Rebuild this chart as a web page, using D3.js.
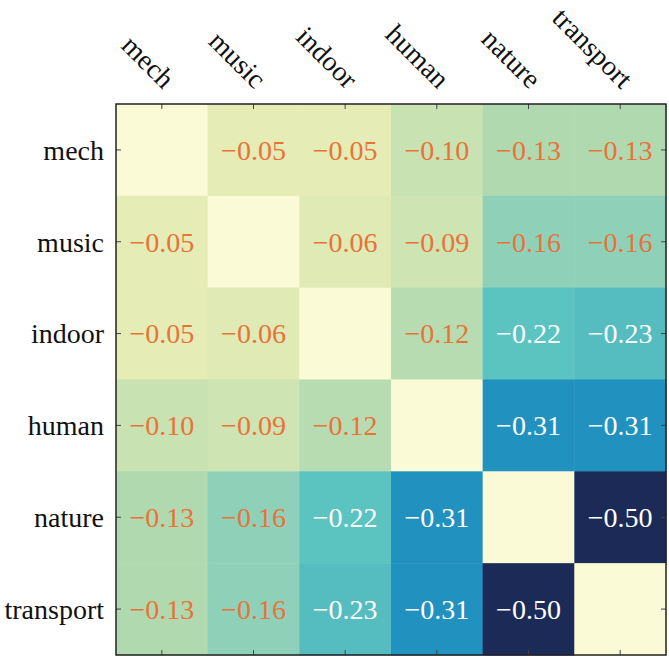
<!DOCTYPE html>
<html><head><meta charset="utf-8">
<script src="https://cdn.jsdelivr.net/npm/d3@7"></script>
</head><body style="margin:0">
<svg id="chart" width="669" height="656" font-family="Liberation Serif"></svg>
<script>
const categories = ["mech", "music", "indoor", "human", "nature", "transport"];
const values = [
  [null, -0.05, -0.05, -0.10, -0.13, -0.13],
  [-0.05, null, -0.06, -0.09, -0.16, -0.16],
  [-0.05, -0.06, null, -0.12, -0.22, -0.23],
  [-0.10, -0.09, -0.12, null, -0.31, -0.31],
  [-0.13, -0.16, -0.22, -0.31, null, -0.50],
  [-0.13, -0.16, -0.23, -0.31, -0.50, null]
];
const colorStops = [0, -0.05, -0.10, -0.13, -0.16, -0.22, -0.31, -0.50];
const colorRange = ["#fafad6", "#e5ecb5", "#c8e2b2", "#b0d9b0", "#8fd1b8", "#5bc3c0", "#2191c0", "#1c2a58"];

const svg = d3.select("#chart");
const mL = 116, mT = 104, mR = 666, mB = 655;
const xs = d3.scaleBand().domain(categories).range([mL, mR]);
const ys = d3.scaleBand().domain(categories).range([mT, mB]);
const color = d3.scaleLinear().domain(colorStops).range(colorRange).clamp(true);
const fs = "28px";

const cells = [];
values.forEach((row, i) => row.forEach((v, j) => cells.push({r: categories[i], c: categories[j], v})));

svg.append("g").selectAll("rect").data(cells).join("rect")
  .attr("x", d => xs(d.c)).attr("y", d => ys(d.r))
  .attr("width", xs.bandwidth() + 0.5).attr("height", ys.bandwidth() + 0.5)
  .attr("fill", d => color(d.v === null ? 0 : d.v));

svg.append("g").selectAll("text").data(cells.filter(d => d.v !== null)).join("text")
  .attr("x", d => xs(d.c) + xs.bandwidth() / 2)
  .attr("y", d => ys(d.r) + ys.bandwidth() / 2)
  .attr("dy", "0.35em")
  .attr("text-anchor", "middle")
  .style("font-family", "Liberation Serif").style("font-size", fs)
  .attr("fill", d => d.v <= -0.2 ? "#ffffff" : "#e8733a")
  .text(d => d3.format(".2f")(d.v).replace("-", "\u2212"));

const tl = 5;
const tg = svg.append("g").attr("stroke", "#444").attr("stroke-width", 1);
categories.forEach(cat => {
  const cx = xs(cat) + xs.bandwidth() / 2, cy = ys(cat) + ys.bandwidth() / 2;
  tg.append("line").attr("x1", cx).attr("x2", cx).attr("y1", mT).attr("y2", mT + tl);
  tg.append("line").attr("x1", cx).attr("x2", cx).attr("y1", mB).attr("y2", mB - tl);
  tg.append("line").attr("y1", cy).attr("y2", cy).attr("x1", mL).attr("x2", mL + tl);
  tg.append("line").attr("y1", cy).attr("y2", cy).attr("x1", mR).attr("x2", mR - tl);
});

svg.append("rect").attr("x", mL).attr("y", mT)
  .attr("width", mR - mL).attr("height", mB - mT)
  .attr("fill", "none").attr("stroke", "#222").attr("stroke-width", 1.5);

svg.append("g").selectAll("text").data(categories).join("text")
  .attr("x", mL - 12)
  .attr("y", d => ys(d) + ys.bandwidth() / 2)
  .attr("dy", "0.35em")
  .attr("text-anchor", "end")
  .style("font-family", "Liberation Serif").style("font-size", fs).attr("fill", "#111")
  .text(d => d);

svg.append("g").selectAll("text").data(categories).join("text")
  .attr("transform", d => `translate(${xs(d) + xs.bandwidth() / 2 + 1},90) rotate(45)`)
  .attr("text-anchor", "end")
  .style("font-family", "Liberation Serif").style("font-size", fs).attr("fill", "#111")
  .text(d => d);
</script>
</body></html>
